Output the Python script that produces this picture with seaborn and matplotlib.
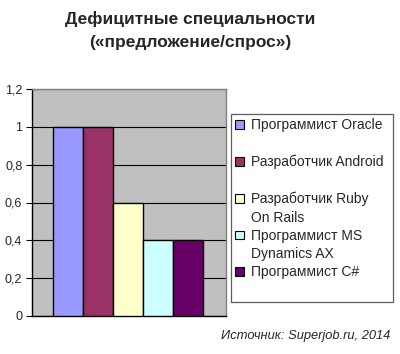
import matplotlib
matplotlib.use("Agg")
import matplotlib.pyplot as plt
import matplotlib.patches as mpatches
import seaborn as sns
import pandas as pd

# ---- data ----
categories = ["Программист Oracle", "Разработчик Android", "Разработчик Ruby On Rails",
              "Программист MS Dynamics AX", "Программист C#"]
values = [1.0, 1.0, 0.6, 0.4, 0.4]
colors = ["#9999FF", "#993366", "#FFFFCC", "#CCFFFF", "#660066"]
yticks = [0, 0.2, 0.4, 0.6, 0.8, 1.0, 1.2]
ytick_labels = ["0", "0,2", "0,4", "0,6", "0,8", "1", "1,2"]
title_lines = ["Дефицитные специальности", "(«предложение/спрос»)"]
source = "Источник: Superjob.ru, 2014"

sns.set_style("white")
plt.rcParams["font.family"] = ["Liberation Sans", "DejaVu Sans"]

df = pd.DataFrame({"name": categories, "value": values})

fig = plt.figure(figsize=(4.0, 3.54), dpi=100)
ax = fig.add_axes([32 / 400, 1 - 316 / 354, 194 / 400, 227 / 354])
ax.set_facecolor("#C0C0C0")

sns.barplot(data=df, x="name", y="value", hue="name", palette=colors,
            width=1.0, edgecolor="black", linewidth=1.0, legend=False,
            saturation=1, ax=ax, zorder=3)

ax.set_xlim(-1.2, 5.27)
ax.set_ylim(0, 1.2)
ax.set_yticks(yticks)
ax.set_yticklabels(ytick_labels, fontsize=9)
ax.set_xticks([])
ax.set_xlabel("")
ax.set_ylabel("")
ax.yaxis.grid(True, color="black", linewidth=0.8, zorder=1)
ax.set_axisbelow(True)
ax.tick_params(axis="y", direction="out", length=4, width=0.8, color="black",
               left=True, pad=3)
for s in ["top", "right"]:
    ax.spines[s].set_color("#808080")
    ax.spines[s].set_linewidth(1)
for s in ["left", "bottom"]:
    ax.spines[s].set_color("black")
    ax.spines[s].set_linewidth(1)

# legend: use the bars' colours, with blank continuation rows
def sw(i):
    return mpatches.Patch(facecolor=colors[i], edgecolor="black", linewidth=0.8)
blank = lambda: mpatches.Patch(facecolor="none", edgecolor="none")
handles = [sw(0), blank(), sw(1), blank(), sw(2), blank(), sw(3), blank(), sw(4), blank()]
labels = ["Программист Oracle", " ", "Разработчик Android", " ",
          "Разработчик Ruby", "On Rails", "Программист MS", "Dynamics AX",
          "Программист C#", " "]
leg = fig.legend(handles, labels, loc="upper left",
                 bbox_to_anchor=(231 / 400, 1 - 114 / 354 - 0.01, 162 / 400, 0.01),
                 mode="expand", fontsize=10, frameon=True, fancybox=False,
                 handlelength=0.6, handleheight=0.6, handletextpad=0.55,
                 labelspacing=0.31, borderpad=0.3, borderaxespad=0)
leg.get_frame().set_edgecolor("#333333")
leg.get_frame().set_linewidth(0.9)

fig.text(190 / 400, 1 - 19 / 354, title_lines[0], ha="center", va="center",
         fontsize=12.5, fontweight="bold")
fig.text(190 / 400, 1 - 42 / 354, title_lines[1], ha="center", va="center",
         fontsize=12.5, fontweight="bold")
fig.text(390 / 400, 1 - 336 / 354, source, ha="right", va="center",
         fontsize=9.3, style="italic")

fig.savefig("out.png", dpi=100)
